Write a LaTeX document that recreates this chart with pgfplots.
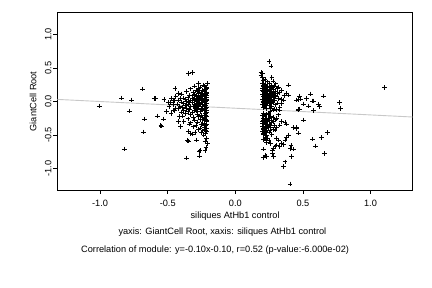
\documentclass[border=0pt]{standalone}
\usepackage{fontspec}
\setmainfont{Liberation Sans}
\usepackage{pgfplots}
\pgfplotsset{compat=1.18}
\definecolor{regline}{RGB}{200,200,200}
\newcommand{\rfont}{\fontsize{9.2bp}{11bp}\selectfont}
\begin{document}
\begin{tikzpicture}
\useasboundingbox (0,0) rectangle (432bp,288bp);
\begin{axis}[
  at={(57.5bp,98bp)}, anchor=south west,
  scale only axis, width=355.2bp, height=177.3bp,
  xmin=-1.315, xmax=1.312, ymin=-1.32, ymax=1.325,
  axis line style={line width=0.6bp},
  tick style={line width=0.6bp, black},
  tick align=outside, major tick length=4bp,
  xtick={-1,-0.5,0,0.5,1}, xticklabels={-1.0,-0.5,0.0,0.5,1.0},
  ytick={-1,-0.5,0,0.5,1}, yticklabels={-1.0,-0.5,0.0,0.5,1.0},
  xtick pos=bottom, ytick pos=left,
  tick label style={font=\rfont},
  xticklabel style={yshift=-3bp},
  yticklabel style={rotate=90, anchor=south, inner sep=1.8bp},
  xlabel={siliques AtHb1 control},
  ylabel={GiantCell Root},
  label style={font=\rfont},
  xlabel style={at={(axis description cs:0.5,0)}, anchor=center, yshift=-25.7bp},
  ylabel style={at={(axis description cs:-0.069,0.5)}, anchor=center},
  clip=false,
]
\addplot[regline, line width=0.9bp, forget plot] coordinates {(-1.315,0.0315) (1.312,-0.2312)};
\addplot[only marks, mark=+, mark size=2.3bp, mark options={line width=0.9bp, black}] coordinates {
(-1.006,-0.067) (-0.840,0.052) (-0.766,0.022) (-0.784,-0.142) (-0.821,-0.709)
(-0.685,0.187) (-0.673,-0.261) (-0.680,-0.455) (-0.600,0.042) (-0.588,0.042)
(-0.577,-0.216) (-0.550,-0.355) (-0.545,-0.365) (-0.532,-0.261) (-0.527,0.033)
(-0.496,-0.012) (-0.508,-0.152) (-0.475,-0.176) (-0.458,-0.127) (-0.446,0.197)
(-0.421,0.122) (-0.439,0.082) (-0.458,0.022) (-0.409,0.048) (-0.414,-0.227)
(-0.421,-0.300) (-0.404,-0.376) (-0.347,-0.450) (-0.335,-0.475) (-0.315,-0.485)
(-0.298,-0.465) (-0.352,-0.585) (-0.345,-0.590) (-0.360,-0.843) (-0.285,-0.575)
(-0.266,-0.813) (-0.268,-0.750) (-0.224,-0.734) (-0.217,-0.684) (-0.232,-0.500)
(-0.212,-0.550) (-0.224,-0.600) (-0.207,-0.624) (-0.347,0.420) (-0.318,0.430)
(-0.274,0.270) (-0.237,0.246) (-0.205,0.270) (-0.261,-0.734)
(-0.30,0.232) (-0.26,0.214) (-0.23,0.226) (-0.21,0.206)
(-0.33,0.189) (-0.29,0.172) (-0.27,0.195) (-0.24,0.166) (-0.22,0.187)
(-0.36,0.152) (-0.31,0.132) (-0.28,0.146) (-0.25,0.126) (-0.23,0.149) (-0.21,0.137)
(-0.40,0.112) (-0.34,0.092) (-0.30,0.104) (-0.27,0.086) (-0.26,0.115) (-0.24,0.097) (-0.22,0.108) (-0.21,0.089)
(-0.44,0.072) (-0.38,0.052) (-0.35,0.064) (-0.32,0.046) (-0.29,0.069) (-0.27,0.057) (-0.25,0.075) (-0.23,0.049) (-0.21,0.066)
(-0.47,0.042) (-0.42,0.022) (-0.37,0.034) (-0.33,0.016) (-0.31,0.039) (-0.28,0.027) (-0.26,0.045) (-0.24,0.019) (-0.22,0.036) (-0.21,0.025)
(-0.45,0.012) (-0.40,-0.008) (-0.36,0.004) (-0.34,-0.014) (-0.30,0.009) (-0.28,-0.003) (-0.25,0.015) (-0.23,-0.011) (-0.22,0.006)
(-0.48,-0.018) (-0.43,-0.038) (-0.38,-0.026) (-0.35,-0.044) (-0.32,-0.021) (-0.29,-0.033) (-0.27,-0.015) (-0.24,-0.041) (-0.21,-0.024)
(-0.46,-0.048) (-0.41,-0.068) (-0.37,-0.056) (-0.33,-0.074) (-0.30,-0.051) (-0.28,-0.063) (-0.26,-0.045) (-0.23,-0.071) (-0.22,-0.054)
(-0.49,-0.078) (-0.44,-0.098) (-0.39,-0.086) (-0.36,-0.104) (-0.31,-0.081) (-0.29,-0.093) (-0.27,-0.075) (-0.25,-0.101) (-0.21,-0.084)
(-0.42,-0.108) (-0.38,-0.128) (-0.34,-0.116) (-0.30,-0.134) (-0.28,-0.111) (-0.24,-0.123) (-0.22,-0.105)
(-0.45,-0.138) (-0.40,-0.158) (-0.35,-0.146) (-0.32,-0.164) (-0.29,-0.141) (-0.26,-0.153) (-0.23,-0.135) (-0.21,-0.161)
(-0.37,-0.178) (-0.33,-0.198) (-0.28,-0.186) (-0.25,-0.204) (-0.22,-0.181)
(-0.39,-0.218) (-0.31,-0.238) (-0.27,-0.226) (-0.24,-0.244) (-0.21,-0.221)
(-0.35,-0.258) (-0.30,-0.278) (-0.26,-0.266) (-0.23,-0.284) (-0.22,-0.261)
(-0.38,-0.298) (-0.33,-0.318) (-0.28,-0.306) (-0.24,-0.324) (-0.21,-0.301)
(-0.34,-0.338) (-0.29,-0.358) (-0.25,-0.346) (-0.22,-0.364)
(-0.31,-0.378) (-0.26,-0.398) (-0.23,-0.386) (-0.21,-0.404)
(-0.27,-0.418) (-0.24,-0.438) (-0.22,-0.426)
(-0.25,-0.458) (-0.22,-0.478)
(-0.215,0.195) (-0.225,0.155) (-0.215,0.118) (-0.228,0.078) (-0.214,0.012) (-0.226,-0.018)
(-0.216,-0.062) (-0.229,-0.108) (-0.213,-0.138) (-0.225,-0.172) (-0.216,-0.205) (-0.229,-0.252)
(-0.214,-0.285) (-0.226,-0.322) (-0.215,-0.345) (-0.228,-0.412) (-0.214,-0.452)
(-0.255,0.055) (-0.285,0.015) (-0.265,-0.032) (-0.295,-0.072) (-0.245,-0.112) (-0.275,0.125)
(-0.305,0.085) (-0.265,0.165)
(1.103,0.212) (0.772,-0.012) (0.777,-0.100) (0.654,0.082) (0.555,0.112)
(0.528,0.048) (0.570,0.007) (0.580,0.007) (0.503,-0.037) (0.540,-0.067)
(0.614,-0.042) (0.624,-0.072) (0.577,-0.137) (0.470,0.027) (0.480,0.037)
(0.454,0.022) (0.476,0.082) (0.466,-0.122) (0.478,-0.112) (0.503,-0.276)
(0.454,-0.390) (0.466,-0.470) (0.680,-0.460) (0.636,-0.540) (0.572,-0.560)
(0.595,-0.664) (0.658,-0.773)
(0.392,0.246) (0.380,0.122) (0.392,0.097) (0.355,0.022) (0.343,-0.027) (0.330,-0.087)
(0.464,-0.127) (0.368,-0.316) (0.380,-0.336) (0.430,-0.385) (0.454,-0.400)
(0.392,-0.500) (0.380,-0.535) (0.368,-0.575) (0.412,-0.660) (0.405,-0.700) (0.430,-0.710)
(0.417,-0.823) (0.368,-0.900) (0.355,-0.973) (0.405,-1.230)
(0.343,-0.624) (0.355,-0.640) (0.330,-0.675) (0.306,-0.650) (0.294,-0.675) (0.281,-0.700) (0.274,-0.724)
(0.207,-0.710) (0.207,-0.840) (0.220,-0.800) (0.232,-0.823) (0.281,-0.823) (0.277,-0.773)
(0.306,-0.550) (0.318,-0.575) (0.294,-0.425) (0.306,-0.385)
(0.220,-0.550) (0.232,-0.575) (0.207,-0.475) (0.227,-0.450) (0.257,-0.425) (0.244,-0.385)
(0.207,-0.276) (0.203,-0.325) (0.220,-0.227) (0.244,-0.250) (0.269,-0.276) (0.281,-0.300)
(0.257,-0.350) (0.207,-0.400) (0.227,-0.365)
(0.343,-0.300) (0.330,-0.350) (0.306,-0.250) (0.318,-0.200)
(0.257,-0.152) (0.244,-0.176) (0.281,-0.127) (0.306,-0.117) (0.330,-0.127) (0.232,-0.200)
(0.20,0.42) (0.20,0.36) (0.22,0.33) (0.25,0.594) (0.264,0.53) (0.27,0.36) (0.19,0.43) (0.19,0.39)
(0.21,0.312) (0.24,0.294) (0.28,0.306)
(0.20,0.268) (0.22,0.252) (0.25,0.274) (0.27,0.247) (0.30,0.263)
(0.21,0.232) (0.23,0.212) (0.24,0.226) (0.26,0.206) (0.29,0.229) (0.32,0.217)
(0.20,0.192) (0.22,0.172) (0.24,0.184) (0.25,0.166) (0.27,0.189) (0.28,0.177) (0.31,0.195) (0.34,0.169)
(0.21,0.152) (0.22,0.132) (0.23,0.144) (0.25,0.126) (0.26,0.149) (0.28,0.137) (0.30,0.155) (0.33,0.129)
(0.20,0.112) (0.22,0.092) (0.24,0.104) (0.25,0.086) (0.27,0.109) (0.29,0.097) (0.31,0.115) (0.36,0.089)
(0.21,0.072) (0.22,0.052) (0.23,0.064) (0.25,0.046) (0.26,0.069) (0.28,0.057) (0.30,0.075) (0.32,0.049)
(0.20,0.032) (0.22,0.012) (0.24,0.024) (0.26,0.006) (0.27,0.029) (0.29,0.017) (0.34,0.035)
(0.21,-0.008) (0.23,-0.028) (0.24,-0.016) (0.26,-0.034) (0.28,-0.011) (0.31,-0.023)
(0.20,-0.048) (0.22,-0.068) (0.25,-0.056) (0.27,-0.074) (0.30,-0.051)
(0.21,-0.088) (0.23,-0.108) (0.26,-0.096) (0.29,-0.114)
(0.205,0.245) (0.215,0.205) (0.203,0.158) (0.214,0.118) (0.206,0.078) (0.216,0.038)
(0.204,-0.002) (0.213,-0.038) (0.235,0.115) (0.245,0.045) (0.255,0.205) (0.265,0.125)
(0.21,-0.172) (0.23,-0.188) (0.25,-0.176)
(0.20,-0.212) (0.22,-0.228) (0.26,-0.216) (0.28,-0.234)
(0.21,-0.252) (0.23,-0.268) (0.25,-0.256) (0.30,-0.274)
(0.20,-0.292) (0.22,-0.308) (0.24,-0.296) (0.27,-0.314)
(0.21,-0.332) (0.23,-0.348) (0.25,-0.336) (0.29,-0.354)
(0.20,-0.372) (0.22,-0.388) (0.24,-0.376) (0.26,-0.394)
(0.21,-0.412) (0.23,-0.428) (0.28,-0.416)
(0.20,-0.452) (0.22,-0.468) (0.25,-0.456)
(0.21,-0.492) (0.23,-0.508) (0.27,-0.496)
(0.22,-0.532) (0.24,-0.548)
(0.21,-0.572) (0.25,-0.588)
(0.23,-0.612) (0.26,-0.628)
};
\end{axis}
\node[anchor=west, font=\rfont, inner sep=0pt] at (118.3bp,{288bp-232bp}) {yaxis: GiantCell Root, xaxis: siliques AtHb1 control};
\node[anchor=west, font=\rfont, inner sep=0pt] at (81bp,{288bp-250bp}) {Correlation of module: y=-0.10x-0.10, r=0.52 (p-value:-6.000e-02)};
\end{tikzpicture}
\end{document}
